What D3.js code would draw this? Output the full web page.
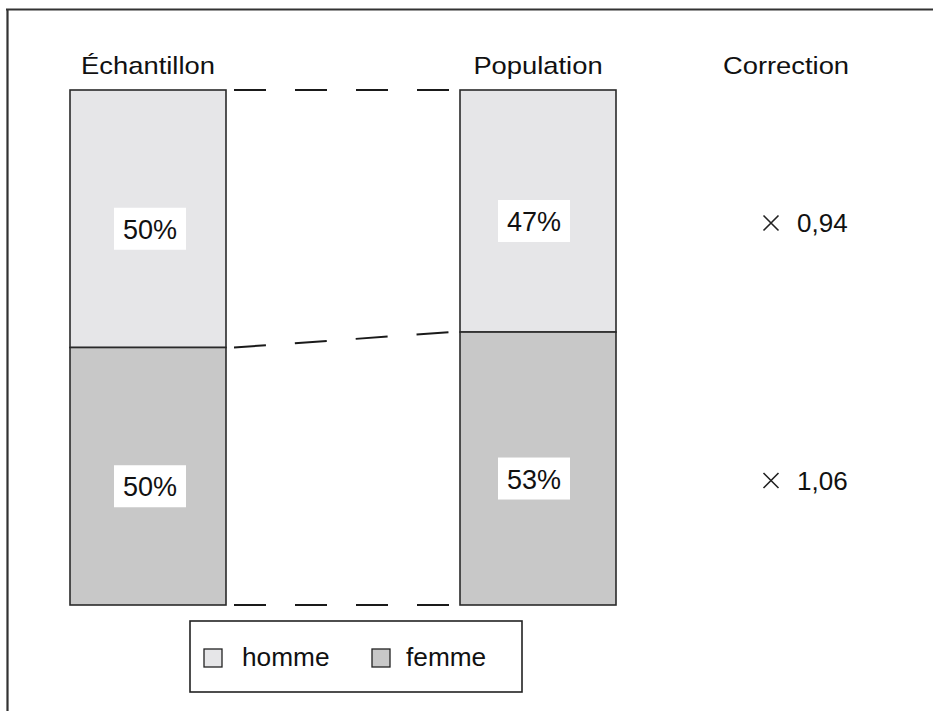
<!DOCTYPE html>
<html>
<head>
<meta charset="utf-8">
<title>Correction</title>
<script src="https://cdn.jsdelivr.net/npm/d3@7"></script>
<style>
    body { margin: 0; background: #fff; }
    text { font-family: "Liberation Sans", Arial, Helvetica, sans-serif; fill: #111; }
    .bar { stroke: #2a2a2a; stroke-width: 1.6px; }
    .link { fill: none; stroke: #1a1a1a; stroke-width: 2px; stroke-dasharray: 32 29; }
</style>
</head>
<body>
<script>
// data
var columns = ["Échantillon", "Population"];
var groups = ["homme", "femme"];
var sample = [50, 50];
var population = [47, 53];
var corrections = ["0,94", "1,06"];
var correctionTitle = "Correction";
var colors = ["#e6e6e8", "#c8c8c8"];

var width = 933, height = 711;

var svg = d3.select("body").append("svg")
    .attr("width", width)
    .attr("height", height);

// frame (only top and left edges show in the crop)
svg.append("path")
    .attr("d", "M6,9.5H933M7.5,9.5V711")
    .attr("fill", "none")
    .attr("stroke", "#333")
    .attr("stroke-width", 2.2);

var x = d3.scaleBand()
    .domain(columns)
    .range([70, 616])
    .paddingInner(0.6);

var y = d3.scaleLinear()
    .domain([0, 100])
    .range([90, 605]);

var corrX = 786;

function label(g, txt, cx, cy, size, sx, anchor) {
    return g.append("text")
        .attr("transform", "translate(" + cx + "," + cy + ") scale(" + sx + ",1)")
        .attr("text-anchor", anchor || "middle")
        .style("font-size", size + "px")
        .text(txt);
}

// column titles
columns.forEach(function (c) {
    label(svg, c, x(c) + x.bandwidth() / 2, 74, 24, 1.14);
});
label(svg, correctionTitle, corrX, 74, 24, 1.14);

// stacked bars
var series = [sample, population];
var stacks = series.map(function (vals) {
    var acc = 0;
    return vals.map(function (v, i) {
        var s = { y0: acc, y1: acc + v, v: v, i: i };
        acc += v;
        return s;
    });
});

columns.forEach(function (c, ci) {
    var g = svg.append("g");
    g.selectAll("rect.bar")
        .data(stacks[ci])
        .enter().append("rect")
        .attr("class", "bar")
        .attr("x", x(c))
        .attr("width", x.bandwidth())
        .attr("y", function (d) { return y(d.y0); })
        .attr("height", function (d) { return y(d.y1) - y(d.y0); })
        .attr("fill", function (d) { return colors[d.i]; });

    stacks[ci].forEach(function (d) {
        var cx = x(c) + x.bandwidth() / 2 + (ci ? -4 : 2);
        var cy = (y(d.y0) + y(d.y1)) / 2 + 10;
        g.append("rect")
            .attr("x", cx - 36)
            .attr("y", cy - 21)
            .attr("width", 72)
            .attr("height", 42)
            .attr("fill", "#fff");
        label(g, d.v + "%", cx, cy + 10, 27, 1.0);
    });
});

// dashed links between the bars
var x1 = x(columns[0]) + x.bandwidth() + 8,
    x2 = x(columns[1]) - 8;
var bounds = [0, sample[0], 100].map(function (v, i) {
    return [y(v), y([0, population[0], 100][i])];
});
svg.selectAll("line.link")
    .data(bounds)
    .enter().append("line")
    .attr("class", "link")
    .attr("x1", x1)
    .attr("x2", x2)
    .attr("y1", function (d) { return d[0]; })
    .attr("y2", function (d) { return d[1]; });

// correction factors
stacks[1].forEach(function (d, i) {
    var cy = (y(d.y0) + y(d.y1)) / 2 + 21;
    svg.append("path")
        .attr("d", "M-7.5,-7.5L7.5,7.5M7.5,-7.5L-7.5,7.5")
        .attr("transform", "translate(" + (corrX - 15) + "," + (cy - 9) + ")")
        .attr("stroke", "#222")
        .attr("stroke-width", 1.6);
    label(svg, corrections[i], corrX + 11, cy, 26, 1.0, "start");
});

// legend
var legend = svg.append("g").attr("transform", "translate(190,621)");
legend.append("rect")
    .attr("width", 332)
    .attr("height", 71)
    .attr("fill", "#fff")
    .attr("stroke", "#222")
    .attr("stroke-width", 1.6);

var items = legend.selectAll("g.item")
    .data(groups)
    .enter().append("g")
    .attr("transform", function (d, i) { return "translate(" + (14 + i * 168) + ",28)"; });

items.append("rect")
    .attr("width", 18)
    .attr("height", 18)
    .attr("fill", function (d, i) { return colors[i]; })
    .attr("stroke", "#222")
    .attr("stroke-width", 1.3);

items.append("text")
    .attr("transform", function (d, i) { return "translate(" + (i ? 34 : 38) + ",17) scale(1.05,1)"; })
    .style("font-size", "25px")
    .text(function (d) { return d; });
</script>
</body>
</html>
